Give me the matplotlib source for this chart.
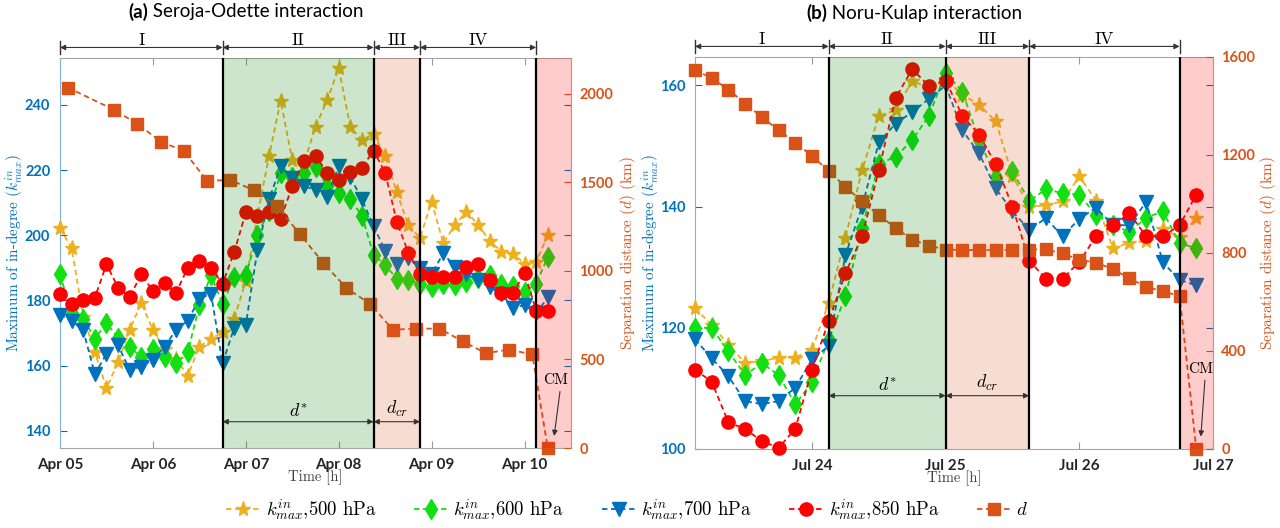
import numpy as np
import matplotlib
matplotlib.use('Agg')
import matplotlib.pyplot as plt
from matplotlib import transforms

plt.rcParams['font.family'] = 'Lato'
plt.rcParams['mathtext.fontset'] = 'cm'
plt.rcParams['axes.unicode_minus'] = False

# ---------------- data: (a) Seroja-Odette, hours from Apr 05 00:00 ----------------
hours_a = np.arange(43) * 3
k500_a = [202.2, 196.1, 175, 164.1, 153.1, 161.0, 171.0, 179.2, 171.0, 165, 162, 156.9, 165.8, 168.2,
          170.2, 174.4, 186, 206, 224.3, 241.3, 223.1, 222, 233.3, 241.4, 251.3, 233.3, 229.1, 231.2,
          224.2, 213.2, 203.0, 199.2, 210.3, 197.5, 203.2, 207.2, 203.2, 198.3, 195, 194.3, 191.3, 191.8, 200.0]
k600_a = [188.0, 176, 174.4, 168.3, 173.0, 168.6, 165.8, 162.6, 165.2, 162.6, 160.7, 164.1, 178.5, 187.7,
          179.0, 187.2, 187.7, 200.0, 207.5, 219, 218, 219, 221, 215, 213, 211, 206, 194,
          190.8, 186.7, 186.4, 185, 184, 185.1, 184.6, 185.6, 187, 187.7, 185.1, 184.3, 182.6, 185.1, 193.3]
k700_a = [175.6, 173.8, 170.8, 157.4, 163.6, 166.2, 158.7, 159.7, 161.8, 165.8, 171.0, 173.8, 180.5, 182.1,
          160.7, 171.6, 172.6, 195.4, 211.0, 221.1, 217.5, 215.0, 214.0, 211.8, 221.1, 217.8, 211.0, 202.8,
          195.3, 191.1, 193, 189.8, 188, 194.5, 190.2, 188, 186.2, 184, 182, 177.8, 178.5, 176.0, 180.9]
k850_a = [182.1, 179.0, 180.0, 180.8, 191.1, 183.9, 181.0, 188.1, 182.9, 185.2, 182.4, 190.0, 192.0, 190.0,
          185.1, 194.8, 207.0, 206.0, 207.2, 205.0, 215.0, 222.9, 224.4, 219.2, 217.1, 219.3, 220.7, 226.0,
          219.2, 204.1, 194.6, 188.2, 187.2, 187.2, 187.2, 190.1, 191.1, 186.2, 182.2, 182.2, 188.4, 176.9, 176.9]
d_hours_a = [2, 14, 20, 26, 32, 38, 44, 50, 56, 62, 68, 74, 80, 86, 92, 98, 104, 110, 116, 122, 126]
d_a = [2035, 1909, 1830, 1730, 1677, 1509, 1513, 1456, 1366, 1207, 1045, 903, 815, 668, 674, 674,
       603, 535, 556, 528, 0]
bounds_a = [0, 42, 81, 93, 123]
days_a = ['Apr 05', 'Apr 06', 'Apr 07', 'Apr 08', 'Apr 09', 'Apr 10']

# ---------------- data: (b) Noru-Kulap, hours from Jul 23 00:00 ----------------
hours_b = 3 + np.arange(31) * 3
k500_b = [123.2, 120.5, 117.2, 114.2, 114.5, 115.1, 115.1, 116.4, 124.1, 134.9, 146.0, 155.0, 155.9, 160.8,
          159.5, 161, 158.5, 156.8, 154.1, 145.1, 140.0, 140.2, 140.9, 145.0, 141.0, 133.2, 134.0, 134.3,
          136.3, 135, 138.1]
k600_b = [120.0, 120.0, 116.1, 112.2, 114.2, 112.2, 107.4, 111.0, 118, 125.2, 136.4, 147.1, 148.2, 151.0,
          155.0, 162.1, 159.0, 151, 144.9, 145.9, 140.9, 142.9, 142.2, 142.0, 138.6, 137, 135.8, 138.2,
          139.2, 134.0, 133.1]
k700_b = [118.1, 115.0, 112.0, 107.9, 107.4, 107.9, 110.1, 114.8, 117.0, 132.0, 140.0, 150.6, 153.7, 155.6,
          157.8, 160.0, 152.6, 148.8, 143.0, 139.2, 136.2, 138.1, 135.1, 138.0, 139.8, 137, 136.9, 140.8,
          130.8, 127.9, 127.0]
k850_b = [113.1, 111.1, 104.4, 103.3, 101.3, 100.2, 103.3, 113.1, 121.1, 129.0, 135.1, 146.0, 157.9, 162.7,
          159.9, 160.8, 155.0, 151.9, 147.0, 140.0, 131.1, 128.1, 128.1, 130.9, 135.1, 136.9, 138.9, 135.1,
          135.1, 136.9, 142.0]
d_b = [1546, 1514, 1467, 1410, 1355, 1301, 1251, 1196, 1135, 1070, 1011, 954, 903, 855, 830, 814,
       812, 812, 812, 812, 814, 815, 798, 773, 760, 735, 696, 662, 643, 625, 0]
bounds_b = [3, 27, 48, 63, 90]
days_b = ['Jul 24', 'Jul 25', 'Jul 26', 'Jul 27']

levels = ['500 hPa', '600 hPa', '700 hPa', '850 hPa']
markers = ['*', 'd', 'v', 'o']
colors = ['#EDB120', '#12E012', '#0072BD', '#FF0000']
msizes = [11, 10, 10, 9.5]
BLUE, ORANGE = '#0072BD', '#D95319'
DASH = (0, (3, 2))


def draw_panel(ax, hrs, ks, d_hrs, d, bounds, xmax, ylim1, yticks1, ylim2, yticks2,
               xticks, xlabels, arrow_y, cm_xy, cm_text, lab_x):
    lines = []
    for k, lev, m, c, ms in zip(ks, levels, markers, colors, msizes):
        ln, = ax.plot(hrs, k, ls=DASH, lw=1.3, color=c, marker=m, ms=ms, mec=c, mfc=c,
                      clip_on=False, zorder=3, label=r'$k^{in}_{max}$,' + lev)
        lines.append(ln)
    ax2 = ax.twinx()
    dl, = ax2.plot(d_hrs, d, ls=DASH, lw=1.3, color=ORANGE, marker='s', ms=8, mec=ORANGE,
                   clip_on=False, zorder=3, label='$d$')
    lines.append(dl)

    ax.set_xlim(bounds[0], xmax)
    ax.set_ylim(*ylim1)
    ax2.set_ylim(*ylim2)
    ax.set_yticks(yticks1)
    ax2.set_yticks(yticks2)
    ax.set_xticks(xticks)
    ax.set_xticklabels(xlabels)

    # shaded phases drawn over the data (tints the markers like the original)
    ax2.axvspan(bounds[1], bounds[2], color='green', alpha=0.2, lw=0, zorder=5)
    ax2.axvspan(bounds[2], bounds[3], color=ORANGE, alpha=0.2, lw=0, zorder=5)
    ax2.axvspan(bounds[4], xmax, color='red', alpha=0.2, lw=0, zorder=5)
    for b in bounds[1:]:
        ax2.axvline(b, color='k', lw=1.6, zorder=6)

    trans = transforms.blended_transform_factory(ax2.transData, ax2.transAxes)
    # phase brackets above the axes
    yb = 1.027
    for x0, x1, lab in zip(bounds[:-1], bounds[1:], ['I', 'II', 'III', 'IV']):
        ax2.annotate('', xy=(x0, yb), xytext=(x1, yb), xycoords=trans, textcoords=trans,
                     arrowprops=dict(arrowstyle='<|-|>', color='#333333', lw=0.8, shrinkA=0,
                                     shrinkB=0, mutation_scale=8), annotation_clip=False)
        ax2.text((x0 + x1) / 2, yb + 0.006, lab, transform=trans, ha='center', va='baseline',
                 fontfamily='cmr10', fontweight='normal', fontsize=12.5)
    for b in bounds:
        ax2.plot([b, b], [yb - 0.016, yb + 0.017], transform=trans, color='#333333', lw=1.0,
                 clip_on=False)

    # d* and d_cr arrows
    for x0, x1, lab in [(bounds[1], bounds[2], '$d^{*}$'), (bounds[2], bounds[3], '$d_{cr}$')]:
        ax2.annotate('', xy=(x0, arrow_y), xytext=(x1, arrow_y), xycoords=trans, textcoords=trans,
                     arrowprops=dict(arrowstyle='<|-|>', color='#333333', lw=0.8, shrinkA=0,
                                     shrinkB=0, mutation_scale=8), zorder=7)
        ax2.text((x0 + x1) / 2, arrow_y + 0.008, lab, transform=trans, ha='center', va='bottom',
                 fontsize=13, zorder=7)

    ax2.annotate('CM', xy=cm_xy, xytext=cm_text, ha='center', va='center', fontfamily='cmr10',
                 fontweight='normal', fontsize=11, zorder=8, annotation_clip=False,
                 arrowprops=dict(arrowstyle='-|>', color='#333333', lw=0.8, shrinkA=1, shrinkB=1,
                                 mutation_scale=8, relpos=(0.7, 0)))

    # spines and ticks
    for s in ['top', 'bottom', 'left']:
        ax2.spines[s].set_visible(False)
    ax.spines['right'].set_visible(False)
    ax.spines['left'].set_color('#7fb3dc')
    ax.spines['top'].set_color('#a6a6a6')
    ax.spines['bottom'].set_color('#a6a6a6')
    ax2.spines['right'].set_color('#e48a60')
    ax.tick_params(axis='x', direction='in', top=True, length=5, color='#999999',
                   labelcolor='#262626', labelsize=11, pad=7)
    ax.tick_params(axis='y', direction='in', left=True, right=True, length=5, color=BLUE,
                   labelcolor=BLUE, labelsize=10.5, pad=7)
    ax2.tick_params(axis='y', direction='in', length=5, color=ORANGE, labelcolor=ORANGE,
                    labelsize=10.5, pad=6)
    for lbl in ax.get_xticklabels() + ax.get_yticklabels() + ax2.get_yticklabels():
        lbl.set_fontweight('bold')

    ax.set_xlabel('Time [h]', fontfamily='cmr10', fontsize=10.5, color='#404040')
    ax.xaxis.set_label_coords(0.5, -0.055)
    ax.set_ylabel(r'Maximum of in-degree ($k^{in}_{max}$)', fontfamily='cmr10', fontsize=11,
                  color=BLUE)
    ax.yaxis.set_label_coords(lab_x[0], 0.5)
    ax2.set_ylabel(r'Separation distance ($d$) (km)', fontfamily='cmr10', fontsize=11,
                   color=ORANGE)
    ax2.yaxis.set_label_coords(lab_x[1], 0.5)
    return lines


fig = plt.figure(figsize=(12.8, 5.28), dpi=100)
axa = fig.add_axes([60 / 1280, 80 / 528, 511 / 1280, 390 / 528])
axb = fig.add_axes([695 / 1280, 79 / 528, 518 / 1280, 392 / 528])

handles = draw_panel(axa, hours_a, [k500_a, k600_a, k700_a, k850_a], d_hours_a, d_a, bounds_a, 132,
                     (134.7, 254.4), [140, 160, 180, 200, 220, 240], (0, 2202), [0, 500, 1000, 1500, 2000],
                     np.arange(6) * 24, days_a, 0.0674, (127.6, 60), (128, 381), (-0.067, 1.091))
draw_panel(axb, hours_b, [k500_b, k600_b, k700_b, k850_b], hours_b, d_b, bounds_b, 96,
           (100, 164.7), [100, 120, 140, 160], (0, 1600), [0, 400, 800, 1200, 1600],
           np.arange(1, 5) * 24, days_b, 0.136, (93.8, 45), (93.7, 326), (-0.064, 1.086))

# titles: bold panel letter followed by regular text
ta = fig.text(128 / 1280, 0.978, '(a)', fontsize=13.5, fontweight='bold', va='center')
axa.annotate(' Seroja-Odette interaction', xy=(1, 0.5), xycoords=ta, va='center', ha='left',
             fontsize=13.5, fontweight='normal', annotation_clip=False)
tb = fig.text(806 / 1280, 0.975, '(b)', fontsize=13.5, fontweight='bold', va='center')
axb.annotate(' Noru-Kulap interaction', xy=(1, 0.5), xycoords=tb, va='center', ha='left',
             fontsize=13.5, fontweight='normal', annotation_clip=False)

fig.legend(handles, [h.get_label() for h in handles], loc='center', bbox_to_anchor=(0.49, 0.034),
           ncol=5, frameon=False, handlelength=1.8, handletextpad=0.3, columnspacing=2.0,
           prop={'family': 'cmr10', 'size': 13.5, 'weight': 'normal'})

fig.savefig('out.png', dpi=100)
